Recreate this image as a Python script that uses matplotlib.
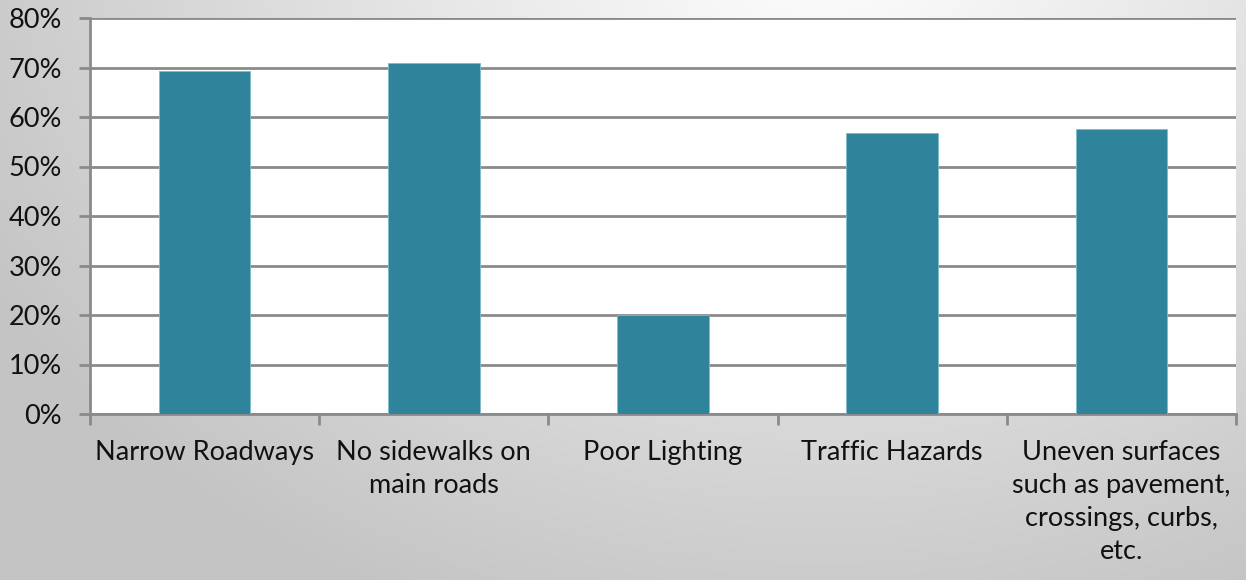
import matplotlib
matplotlib.use("Agg")
import matplotlib.pyplot as plt
import numpy as np
from matplotlib.ticker import FixedLocator, FuncFormatter

categories = ["Narrow Roadways", "No sidewalks on\nmain roads", "Poor Lighting",
              "Traffic Hazards", "Uneven surfaces\nsuch as pavement,\ncrossings, curbs,\netc."]
values = [69.2, 70.9, 20.0, 56.8, 57.6]
y_ticks = [0, 10, 20, 30, 40, 50, 60, 70, 80]

plt.rcParams['font.family'] = ['Lato', 'DejaVu Sans']

fig = plt.figure(figsize=(12.46, 5.80), dpi=100)

# background gradient
bg = fig.add_axes([0, 0, 1, 1], zorder=-10)
H, W = 580, 1246
yy, xx = np.mgrid[0:H, 0:W]
d = np.sqrt(((xx - 820) / 900.0) ** 2 + ((yy + 60) / 700.0) ** 2)
g = np.clip(1.0 - 0.22 * d, 0.77, 1.0)
img = np.dstack([g, g, g])
bg.imshow(img, aspect='auto', extent=[0, 1, 0, 1], interpolation='bilinear')
bg.axis('off')

ax = fig.add_axes([90 / W, 1 - 414 / H, (1236 - 90) / W, (414 - 18) / H])
ax.set_facecolor('white')
x = np.arange(len(categories))
ax.bar(x, values, width=0.4, color='#2F849C', edgecolor='#7fbccc', linewidth=0.6, zorder=3)

ax.set_xlim(-0.5, len(categories) - 0.5)
ax.set_ylim(0, 80)
ax.yaxis.set_major_locator(FixedLocator(y_ticks))
ax.yaxis.set_major_formatter(FuncFormatter(lambda v, p: f"{int(v)}%"))
ax.grid(axis='y', color='#8a8a8a', linewidth=2, zorder=1)
ax.set_axisbelow(True)

ax.set_xticks(x)
ax.set_xticklabels(categories, fontsize=19.5, color='#111111', linespacing=1.4)
ax.tick_params(axis='x', length=0, pad=19)
ax.set_xticks(np.arange(-0.5, len(categories)), minor=True)
ax.tick_params(axis='x', which='minor', length=8, width=2, color='#8a8a8a')
ax.tick_params(axis='y', length=8, width=2, color='#8a8a8a', labelsize=19.5,
               labelcolor='#111111', pad=12)
for lbl in ax.get_xticklabels():
    lbl.set_verticalalignment('top')

for s in ['top', 'right']:
    ax.spines[s].set_visible(False)
for s in ['left', 'bottom']:
    ax.spines[s].set_color('#8a8a8a')
    ax.spines[s].set_linewidth(2)

fig.savefig('out.png', dpi=100)
